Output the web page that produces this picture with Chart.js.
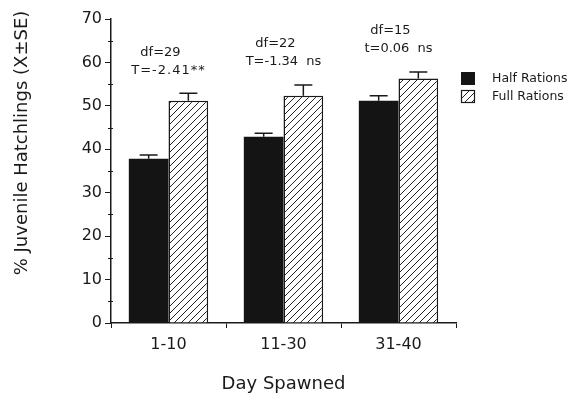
<!DOCTYPE html>
<html>
<head>
<meta charset="utf-8">
<script src="https://cdn.jsdelivr.net/npm/chart.js@4.4.1/dist/chart.umd.min.js"></script>
<style>
  body { margin: 0; background: #fff; }
  canvas { display: block; }
</style>
</head>
<body>
<canvas id="chart" width="581" height="399"></canvas>
<script>
// Datos
const categories = ["1-10", "11-30", "31-40"];
const seriesNames = ["Half Rations", "Full Rations"];
const halfValues = [37.8, 42.9, 51.2];
const halfSE = [0.9, 0.8, 1.1];
const fullValues = [51.2, 52.3, 56.3];
const fullSE = [1.7, 2.5, 1.5];
const statsTop = ["df=29", "df=22", "df=15"];
const statsBottom = ["T=-2.41**", "T=-1.34  ns", "t=0.06  ns"];
const yTicks = [0, 10, 20, 30, 40, 50, 60, 70];

const FONT = "'DejaVu Sans', 'Liberation Sans', sans-serif";
const INK = "#1a1a1a";

// Trama diagonal para Full Rations
function makeHatch() {
  const c = document.createElement("canvas");
  c.width = 7; c.height = 7;
  const g = c.getContext("2d");
  g.fillStyle = "#fff";
  g.fillRect(0, 0, 7, 7);
  g.strokeStyle = "#222";
  g.lineWidth = 1;
  g.beginPath();
  g.moveTo(-1, 8); g.lineTo(8, -1);
  g.moveTo(-1, 1); g.lineTo(1, -1);
  g.moveTo(6, 8); g.lineTo(8, 6);
  g.stroke();
  return g.createPattern(c, "repeat");
}
const hatch = makeHatch();

// Barras de error, textos y leyenda
const extras = {
  id: "extras",
  afterDatasetsDraw(chart) {
    const ctx = chart.ctx;
    const y = chart.scales.y;
    const ses = [halfSE, fullSE];
    ctx.save();
    ctx.strokeStyle = INK;
    ctx.lineWidth = 1.5;
    chart.data.datasets.forEach((ds, di) => {
      chart.getDatasetMeta(di).data.forEach((bar, i) => {
        const top = y.getPixelForValue(ds.data[i] + ses[di][i]);
        ctx.beginPath();
        ctx.moveTo(bar.x, bar.y);
        ctx.lineTo(bar.x, top);
        ctx.moveTo(bar.x - 9, top);
        ctx.lineTo(bar.x + 9, top);
        ctx.stroke();
      });
    });
    ctx.restore();
  },
  afterDraw(chart) {
    const ctx = chart.ctx;
    const area = chart.chartArea;
    const x = chart.scales.x;
    const y = chart.scales.y;
    ctx.save();
    ctx.fillStyle = INK;
    ctx.strokeStyle = INK;

    // marcas menores del eje y
    ctx.lineWidth = 1;
    for (let v = 5; v < 70; v += 10) {
      const py = Math.round(y.getPixelForValue(v)) + 0.5;
      ctx.beginPath();
      ctx.moveTo(area.left - 3, py);
      ctx.lineTo(area.left + 2, py);
      ctx.stroke();
    }

    // estadisticos sobre cada grupo
    ctx.font = "13px " + FONT;
    ctx.textAlign = "center";
    ctx.textBaseline = "middle";
    categories.forEach((c, i) => {
      const cx = x.getPixelForValue(i);
      const capTop = y.getPixelForValue(Math.max(halfValues[i] + halfSE[i], fullValues[i] + fullSE[i]));
      const ly = capTop - 23;
      ctx.letterSpacing = i === 0 ? "1px" : "0px";
      ctx.fillText(statsBottom[i], cx, ly);
      ctx.letterSpacing = "0px";
      ctx.fillText(statsTop[i], cx - 8, ly - 18);
    });

    // leyenda
    const lx = area.right + 5;
    const fills = ["#141414", hatch];
    ctx.font = "12.5px " + FONT;
    ctx.textAlign = "left";
    seriesNames.forEach((name, i) => {
      const ly = 72 + i * 18;
      ctx.fillStyle = fills[i];
      ctx.fillRect(lx, ly, 14, 13);
      if (i === 1) {
        ctx.lineWidth = 1.2;
        ctx.strokeRect(lx + 0.5, ly + 0.5, 13, 12);
      }
      ctx.fillStyle = INK;
      ctx.fillText(name, lx + 31, ly + 6.5);
    });

    // titulo del eje y
    ctx.font = "18px " + FONT;
    ctx.textAlign = "center";
    ctx.translate(22, 143);
    ctx.rotate(-Math.PI / 2);
    ctx.fillText("% Juvenile Hatchlings (X\u00b1SE)", 0, 0);
    ctx.restore();
  }
};

new Chart(document.getElementById("chart"), {
  type: "bar",
  data: {
    labels: categories,
    datasets: [
      {
        label: seriesNames[0],
        data: halfValues,
        backgroundColor: "#141414",
        borderWidth: 0
      },
      {
        label: seriesNames[1],
        data: fullValues,
        backgroundColor: hatch,
        borderColor: INK,
        borderWidth: 1.5
      }
    ]
  },
  options: {
    responsive: false,
    animation: false,
    categoryPercentage: 0.69,
    barPercentage: 1,
    layout: { padding: { left: 0, right: 125, top: 19, bottom: 0 } },
    plugins: { legend: { display: false }, tooltip: { enabled: false } },
    scales: {
      x: {
        grid: { drawOnChartArea: false, drawTicks: true, tickLength: 5, color: INK },
        border: { display: true, color: INK, width: 1.5 },
        ticks: { color: INK, font: { family: FONT, size: 16 }, padding: 7 },
        title: {
          display: true,
          text: "Day Spawned",
          color: INK,
          font: { family: FONT, size: 18 },
          padding: { top: 0, bottom: 4 }
        },
        afterFit(scale) { scale.height = 76; }
      },
      y: {
        min: 0,
        max: 70,
        afterBuildTicks(scale) { scale.ticks = yTicks.map(v => ({ value: v })); },
        grid: { drawOnChartArea: false, drawTicks: true, tickLength: 6, color: INK },
        border: { display: true, color: INK, width: 1.5 },
        ticks: { color: INK, font: { family: FONT, size: 16 }, padding: 3 },
        afterFit(scale) { scale.width = 111; }
      }
    }
  },
  plugins: [extras]
});
</script>
</body>
</html>
